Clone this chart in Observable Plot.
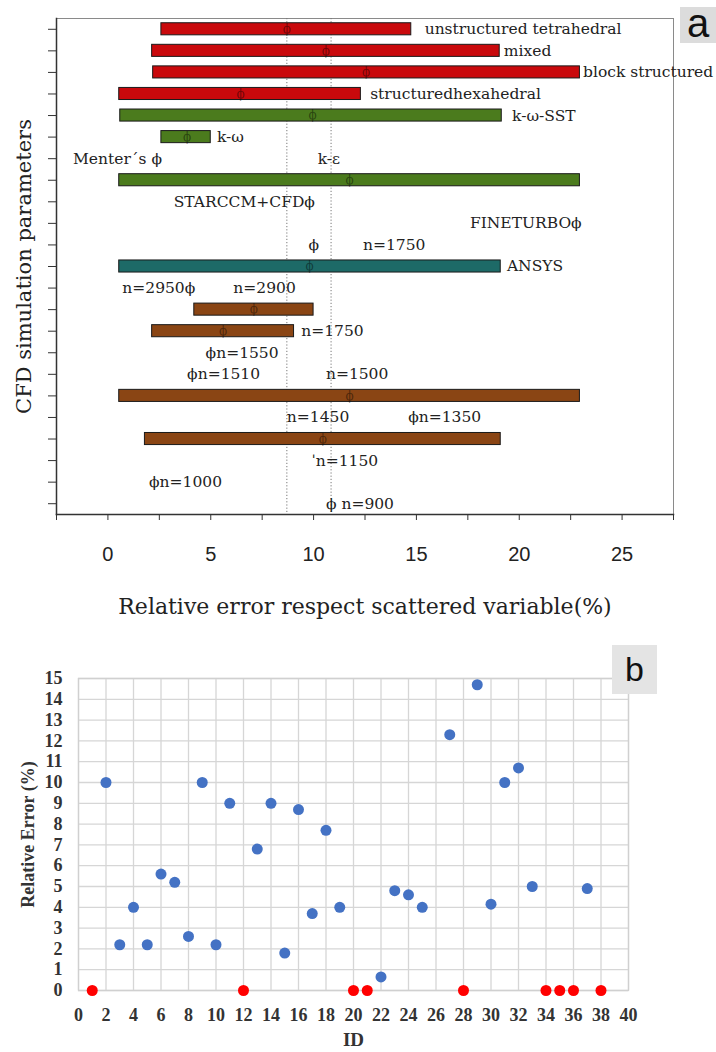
<!DOCTYPE html>
<html>
<head>
<meta charset="utf-8">
<script src="https://cdn.jsdelivr.net/npm/d3@7"></script>
<script src="https://cdn.jsdelivr.net/npm/@observablehq/plot@0.6"></script>
<style>
  html, body { margin: 0; padding: 0; background: #fff; }
  #wrap { position: relative; width: 716px; height: 1052px; overflow: hidden; }
  #wrap svg { display: block; }
  .tag { position: absolute; background: #dcdcdc; font-family: "Liberation Sans", Arial, sans-serif; color: #111; display: flex; align-items: center; justify-content: center; }
</style>
</head>
<body>
<div id="wrap"></div>
<script>
// ---------- Panel a data ----------
const rowKeys = d3.range(23).map(i => "r" + i);   // 23 unlabeled rows, top to bottom
const barRow   = ["r0", "r1", "r2", "r3", "r4", "r5", "r7", "r11", "r13", "r14", "r17", "r19"];
const barStart = [2.6, 2.15, 2.2, 0.55, 0.6, 2.6, 0.55, 0.55, 4.2, 2.15, 0.55, 1.8];
const barEnd   = [14.75, 19.05, 22.95, 12.3, 19.15, 5.0, 22.95, 19.1, 10.0, 9.05, 22.95, 19.1];
const barMean  = [8.7, 10.6, 12.55, 6.45, 9.95, 3.85, 11.75, 9.8, 7.1, 5.6, 11.75, 10.45];
const barGroup = ["mesh", "mesh", "mesh", "mesh", "turbulence", "turbulence", "turbulence", "software", "grid", "grid", "grid", "grid"];
const groupNames  = ["mesh", "turbulence", "software", "grid"];
const groupColors = ["#c9090c", "#4b7b1d", "#1d6a67", "#8a4514"];

const labelText = ["unstructured tetrahedral", "mixed", "block structured", "structuredhexahedral", "k-ω-SST", "k-ω",
  "Menter´s ϕ", "k-ε", "STARCCM+CFDϕ", "FINETURBOϕ", "ϕ", "n=1750", "ANSYS", "n=2950ϕ", "n=2900", "n=1750",
  "ϕn=1550", "ϕn=1510", "n=1500", "n=1450", "ϕn=1350", "ˈn=1150", "ϕn=1000", "ϕ n=900"];
const labelRow = ["r0", "r1", "r2", "r3", "r4", "r5", "r6", "r6", "r8", "r9", "r10", "r10", "r11", "r12", "r12", "r14",
  "r15", "r16", "r16", "r18", "r18", "r20", "r21", "r22"];
const labelX = [15.4, 19.25, 23.1, 12.75, 19.65, 5.3, -1.7, 10.2, 3.2, 17.6, 9.75, 12.4, 19.4, 0.7, 6.1, 9.4,
  4.75, 3.85, 10.6, 8.7, 14.6, 9.9, 2.0, 10.6];

const meanLines = [8.7, 10.85];
const xMinorTicks = d3.range(-2.5, 27.6, 2.5);
const xTickLabels = [0, 5, 10, 15, 20, 25];

// ---------- Panel b data ----------
const ids  = [1, 2, 3, 4, 5, 6, 7, 8, 9, 10, 11, 12, 13, 14, 15, 16, 17, 18, 19, 20, 21, 22, 23, 24, 25, 27, 28, 29, 30, 31, 32, 33, 34, 35, 36, 37, 38];
const errs = [0, 10, 2.2, 4, 2.2, 5.6, 5.2, 2.6, 10, 2.2, 9, 0, 6.8, 9, 1.8, 8.7, 3.7, 7.7, 4, 0, 0, 0.65, 4.8, 4.6, 4, 12.3, 0, 14.7, 4.15, 10, 10.7, 5, 0, 0, 0, 4.9, 0];
const bXTicks = d3.range(0, 41, 2);
const bYTicks = d3.range(0, 16, 1);

// ---------- build tables ----------
const bars = barRow.map((row, i) => ({row, start: barStart[i], end: barEnd[i], mean: barMean[i], group: barGroup[i]}));
const labels = labelText.map((text, i) => ({text, row: labelRow[i], x: labelX[i]}));
const points = ids.map((id, i) => ({id, err: errs[i], zero: errs[i] === 0}));

const serif = "'DejaVu Serif', serif";
const wrap = document.getElementById("wrap");

const chartA = Plot.plot({
  width: 716,
  height: 630,
  marginTop: 18,
  marginBottom: 116,
  marginLeft: 56,
  marginRight: 43,
  style: {fontFamily: serif, color: "#222", background: "#fff"},
  x: {domain: [-2.5, 27.5]},
  y: {type: "band", domain: rowKeys, paddingInner: 0.44, paddingOuter: 0.22, round: false},
  color: {domain: groupNames, range: groupColors},
  marks: [
    Plot.frame({stroke: "#8a8a8a", strokeWidth: 1}),
    Plot.ruleX(meanLines, {stroke: "#777", strokeWidth: 1, strokeDasharray: "1.2,2"}),
    Plot.barX(bars, {x1: "start", x2: "end", y: "row", fill: "group", stroke: "#1a1a1a", strokeWidth: 1}),
    Plot.text(bars, {x: "mean", y: "row", text: () => "ϕ", fontSize: 12, fill: "#000", fillOpacity: 0.45}),
    Plot.text(labels, {x: "x", y: "row", text: "text", textAnchor: "start", fontSize: 15.5, fill: "#222"}),
    Plot.frame({anchor: "left", stroke: "#333", strokeWidth: 1.5}),
    Plot.frame({anchor: "bottom", stroke: "#333", strokeWidth: 1.5}),
    Plot.axisY({tickSize: 8, tickFormat: () => "", label: null, stroke: "#333"}),
    Plot.axisX({ticks: xMinorTicks, tickSize: 6, tickFormat: () => "", label: null, stroke: "#333"}),
    Plot.axisX({ticks: xTickLabels, tickSize: 0, tickPadding: 32, label: null, fontSize: 20,
      fontFamily: "'Liberation Sans Narrow', 'Liberation Sans', Arial, sans-serif", fill: "#222"}),
    Plot.text(["Relative error respect scattered variable(%)"], {frameAnchor: "bottom", textAnchor: "middle", dy: 99, fontSize: 22, fill: "#222"}),
    Plot.text(["CFD simulation parameters"], {frameAnchor: "left", textAnchor: "middle", rotate: -90, dx: -32, fontSize: 21, fill: "#222"})
  ]
});
wrap.appendChild(chartA);

const chartB = Plot.plot({
  width: 716,
  height: 422,
  marginTop: 48,
  marginBottom: 62,
  marginLeft: 78,
  marginRight: 88,
  style: {fontFamily: "'Liberation Serif', serif", color: "#222", background: "#fff"},
  x: {domain: [0, 40]},
  y: {domain: [0, 15]},
  marks: [
    Plot.gridX(bXTicks, {stroke: "#d6d6d6", strokeOpacity: 1, strokeWidth: 1.3}),
    Plot.gridY(bYTicks, {stroke: "#d6d6d6", strokeOpacity: 1, strokeWidth: 1.3}),
    Plot.frame({stroke: "#d0d0d0", strokeWidth: 1.3}),
    Plot.axisX({ticks: bXTicks, tickSize: 0, tickPadding: 18, label: null, fontSize: 18, fontWeight: "bold", fill: "#333"}),
    Plot.axisY({ticks: bYTicks, tickSize: 0, tickPadding: 16, label: null, fontSize: 18, fontWeight: "bold", fill: "#333"}),
    Plot.dot(points, {x: "id", y: "err", r: 5.5, fill: d => d.zero ? "#ff0000" : "#4472c4", stroke: "none"}),
    Plot.text(["ID"], {frameAnchor: "bottom", textAnchor: "middle", dy: 55, fontSize: 19, fontWeight: "bold", fill: "#333"}),
    Plot.text(["Relative Error (%)"], {frameAnchor: "left", textAnchor: "middle", rotate: -90, dx: -50, fontSize: 18, fontWeight: "bold", fill: "#333"})
  ]
});
wrap.appendChild(chartB);

const tagA = document.createElement("div");
tagA.className = "tag";
tagA.textContent = "a";
Object.assign(tagA.style, {left: "680px", top: "7px", width: "36px", height: "36px", fontSize: "40px", paddingBottom: "4px", boxSizing: "border-box"});
wrap.appendChild(tagA);

const tagB = document.createElement("div");
tagB.className = "tag";
tagB.textContent = "b";
Object.assign(tagB.style, {left: "612px", top: "645px", width: "45px", height: "49px", fontSize: "34px", background: "#e4e4e4"});
wrap.appendChild(tagB);
</script>
</body>
</html>
